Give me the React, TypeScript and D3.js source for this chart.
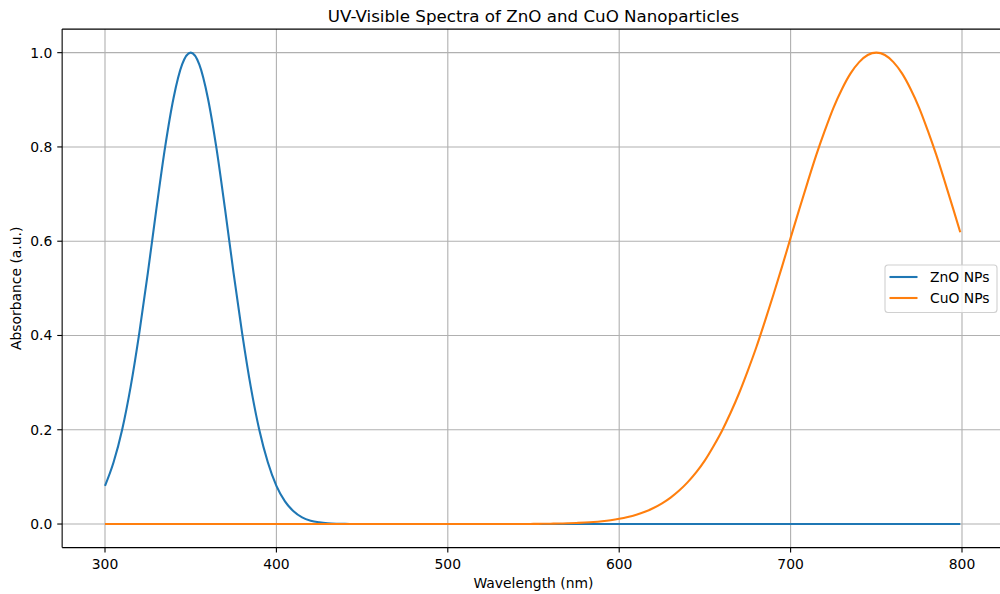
import React, { useEffect, useRef } from "react";
import * as d3 from "d3";

// wavelength samples (nm), 5 nm apart, last sample at 799
const wavelengths: number[] = d3.range(300, 800, 5).concat([799]);

// ZnO NPs absorbance (300..445 nm, zero afterwards)
const znoHead = [
  0.081, 0.131, 0.2, 0.292, 0.405, 0.533, 0.669, 0.798, 0.904, 0.975,
  1.0, 0.975, 0.904, 0.798, 0.669, 0.533, 0.405, 0.292, 0.2, 0.131,
  0.081, 0.048, 0.027, 0.014, 0.007, 0.0035, 0.0016, 0.0007, 0.0003, 0.0001,
];
const znoValues: number[] = wavelengths.map((_, i) => (i < znoHead.length ? znoHead[i] : 0));

// CuO NPs absorbance (550..799 nm, zero before)
const cuoTail = [
  0.0003, 0.0005, 0.0007, 0.0011, 0.0015, 0.0022, 0.0031, 0.0043, 0.006, 0.0082,
  0.0111, 0.0149, 0.0198, 0.0261, 0.034, 0.0439, 0.0561, 0.071, 0.0889, 0.11,
  0.135, 0.165, 0.198, 0.236, 0.278, 0.325, 0.375, 0.43, 0.487, 0.546,
  0.607, 0.667, 0.726, 0.783, 0.835, 0.883, 0.923, 0.956, 0.98, 0.995,
  1.0, 0.995, 0.98, 0.956, 0.923, 0.883, 0.835, 0.783, 0.726, 0.667,
  0.619,
];
const cuoValues: number[] = wavelengths.map((_, i) => {
  const j = i - (wavelengths.length - cuoTail.length);
  return j >= 0 ? cuoTail[j] : 0;
});

const seriesNames = ["ZnO NPs", "CuO NPs"];
const seriesColors = ["#1f77b4", "#ff7f0e"];
const xTicks = [300, 400, 500, 600, 700, 800];
const yTicks = [0, 0.2, 0.4, 0.6, 0.8, 1.0];

const FONT = "DejaVu Sans, sans-serif";

export default function App() {
  const svgRef = useRef<SVGSVGElement>(null);

  useEffect(() => {
    if (!svgRef.current) return;
    const svg = d3.select(svgRef.current);
    svg.selectAll("*").remove();

    const left = 62.15;
    const top = 29.1;
    const bottom = 547.6;
    const x = d3.scaleLinear().domain([275, 825]).range([left, left + 550 * 1.714]);
    const y = d3.scaleLinear().domain([-0.05, 1.05]).range([bottom, top]);

    // grid
    const grid = svg.append("g").attr("stroke", "#b0b0b0").attr("stroke-width", 1.1);
    xTicks.forEach((t) => {
      grid.append("line").attr("x1", x(t)).attr("x2", x(t)).attr("y1", top).attr("y2", bottom);
    });
    yTicks.forEach((t) => {
      grid.append("line").attr("x1", left).attr("x2", 1000).attr("y1", y(t)).attr("y2", y(t));
    });

    // lines
    const series = [znoValues, cuoValues];
    series.forEach((vals, k) => {
      const line = d3
        .line<number>()
        .x((_, i) => x(wavelengths[i]))
        .y((d) => y(d))
        .curve(d3.curveMonotoneX);
      svg
        .append("path")
        .datum(vals)
        .attr("d", line)
        .attr("fill", "none")
        .attr("stroke", seriesColors[k])
        .attr("stroke-width", 2.1)
        .attr("stroke-linejoin", "round");
    });

    // spines
    svg.append("line").attr("x1", left).attr("x2", left).attr("y1", top).attr("y2", bottom)
      .attr("stroke", "#000").attr("stroke-width", 1.1);
    svg.append("line").attr("x1", left).attr("x2", 1000).attr("y1", bottom).attr("y2", bottom)
      .attr("stroke", "#000").attr("stroke-width", 1.1);
    svg.append("line").attr("x1", left).attr("x2", 1000).attr("y1", top).attr("y2", top)
      .attr("stroke", "#000").attr("stroke-width", 1.1);

    // x ticks
    xTicks.forEach((t) => {
      svg.append("line").attr("x1", x(t)).attr("x2", x(t)).attr("y1", bottom).attr("y2", bottom + 4.9)
        .attr("stroke", "#000").attr("stroke-width", 1.1);
      svg.append("text").attr("x", x(t)).attr("y", bottom + 21.5)
        .attr("text-anchor", "middle").attr("font-size", 13.9).attr("font-family", FONT)
        .attr("fill", "#000").text(String(t));
    });

    // y ticks
    yTicks.forEach((t) => {
      svg.append("line").attr("x1", left - 4.9).attr("x2", left).attr("y1", y(t)).attr("y2", y(t))
        .attr("stroke", "#000").attr("stroke-width", 1.1);
      svg.append("text").attr("x", left - 9.8).attr("y", y(t)).attr("dy", "0.35em")
        .attr("text-anchor", "end").attr("font-size", 13.9).attr("font-family", FONT)
        .attr("fill", "#000").text(d3.format(".1f")(t));
    });

    // labels
    svg.append("text").attr("x", (left + x(825)) / 2).attr("y", 22)
      .attr("text-anchor", "middle").attr("font-size", 16.7).attr("font-family", FONT)
      .text("UV-Visible Spectra of ZnO and CuO Nanoparticles");
    svg.append("text").attr("x", (left + x(825)) / 2).attr("y", 588)
      .attr("text-anchor", "middle").attr("font-size", 13.9).attr("font-family", FONT)
      .text("Wavelength (nm)");
    svg.append("text")
      .attr("transform", `translate(21,${(top + bottom) / 2}) rotate(-90)`)
      .attr("text-anchor", "middle").attr("font-size", 13.9).attr("font-family", FONT)
      .text("Absorbance (a.u.)");

    // legend
    const lg = svg.append("g").attr("transform", "translate(885,265)");
    lg.append("rect").attr("width", 112).attr("height", 47.5).attr("rx", 3)
      .attr("fill", "#fff").attr("fill-opacity", 0.8)
      .attr("stroke", "#d0d0d0").attr("stroke-width", 1.1);
    seriesNames.forEach((name, k) => {
      const ry = 12 + k * 21;
      lg.append("line").attr("x1", 4.5).attr("x2", 32.5).attr("y1", ry).attr("y2", ry)
        .attr("stroke", seriesColors[k]).attr("stroke-width", 2.1);
      lg.append("text").attr("x", 45).attr("y", ry).attr("dy", "0.35em")
        .attr("font-size", 13.9).attr("font-family", FONT).attr("fill", "#000").text(name);
    });
  }, []);

  return (
    <div style={{ position: "absolute", left: 0, top: 0, background: "#fff" }}>
      <svg ref={svgRef} width={1000} height={594} viewBox="0 0 1000 594" style={{ display: "block" }} />
    </div>
  );
}
